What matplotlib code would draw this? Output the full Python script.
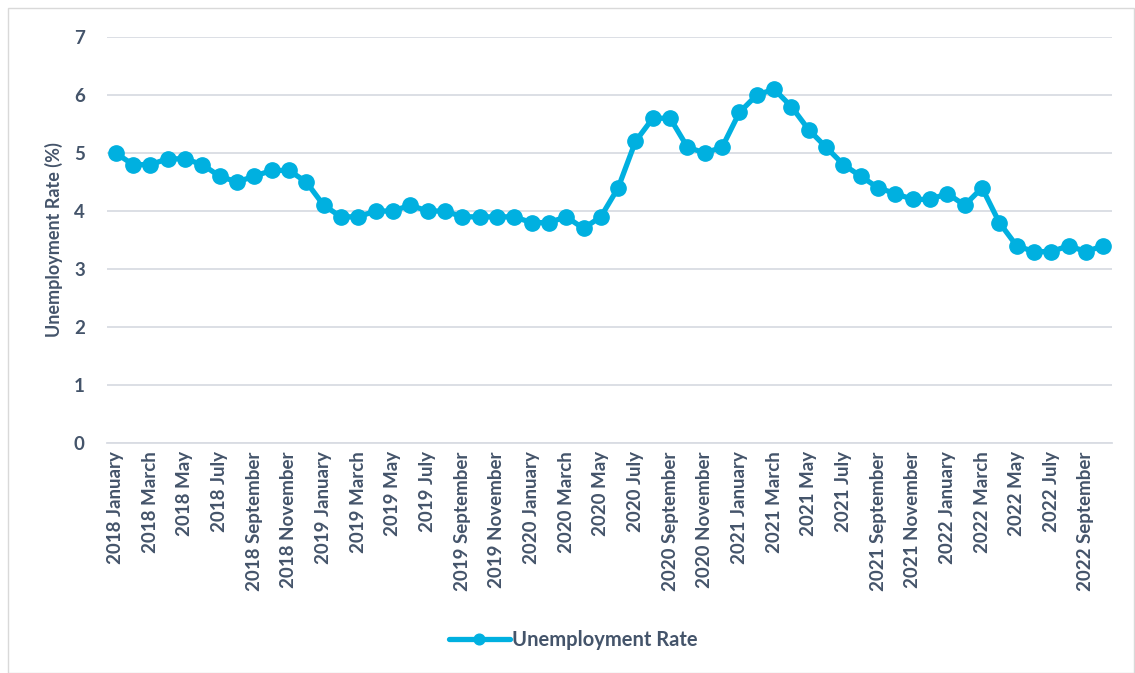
import matplotlib
matplotlib.use("Agg")
import matplotlib.pyplot as plt
from matplotlib.patches import Rectangle

plt.rcParams['font.family'] = ['Lato', 'DejaVu Sans']

months = ["January", "February", "March", "April", "May", "June", "July",
          "August", "September", "October", "November", "December"]
periods = [f"{y} {m}" for y in range(2018, 2023) for m in months][:58]

rate = [
    5.0, 4.8, 4.8, 4.9, 4.9, 4.8, 4.6, 4.5, 4.6, 4.7, 4.7, 4.5,   # 2018
    4.1, 3.9, 3.9, 4.0, 4.0, 4.1, 4.0, 4.0, 3.9, 3.9, 3.9, 3.9,   # 2019
    3.8, 3.8, 3.9, 3.7, 3.9, 4.4, 5.2, 5.6, 5.6, 5.1, 5.0, 5.1,   # 2020
    5.7, 6.0, 6.1, 5.8, 5.4, 5.1, 4.8, 4.6, 4.4, 4.3, 4.2, 4.2,   # 2021
    4.3, 4.1, 4.4, 3.8, 3.4, 3.3, 3.3, 3.4, 3.3, 3.4,             # 2022
]
y_ticks = [0, 1, 2, 3, 4, 5, 6, 7]

text_color = "#44546A"
line_color = "#00B0E0"
grid_color = "#D9DCE3"

fig = plt.figure(figsize=(11.35, 6.73), dpi=100)
fig.patches.append(Rectangle((8 / 1135, 0.0), 1 - 8 / 1135 - 0.001, 1 - 8 / 673,
                             transform=fig.transFigure, fill=False,
                             edgecolor="#D9D9D9", linewidth=1.0))

ax = fig.add_axes([0.0943, 0.3418, 0.8854, 0.6032])
x = list(range(len(rate)))
ax.plot(x, rate, color=line_color, linewidth=3.8, marker="o", markersize=11,
        label="Unemployment Rate", solid_capstyle="round")

ax.set_xlim(-0.5, len(rate) - 0.5)
ax.set_ylim(0, 7)
ax.set_yticks(y_ticks)
ax.set_xticks(x[::2])
ax.set_xticklabels(periods[::2], rotation=90, fontsize=13.5, fontweight="bold",
                   color=text_color)
ax.tick_params(axis="y", labelsize=13.5, labelcolor=text_color, length=0, pad=16)
for lbl in ax.get_yticklabels():
    lbl.set_fontweight("bold")
ax.tick_params(axis="x", length=0, pad=6)

ax.grid(axis="y", color=grid_color, linewidth=1.3)
ax.set_axisbelow(True)
for side in ("top", "right", "left"):
    ax.spines[side].set_visible(False)
ax.spines["bottom"].set_color(grid_color)
ax.spines["bottom"].set_linewidth(1.3)

ax.set_ylabel("Unemployment Rate (%)", fontsize=13, fontweight="bold",
              color=text_color, labelpad=8)

leg = fig.legend(loc="center", bbox_to_anchor=(0.505, 1 - 640 / 673), frameon=False,
                 prop={"size": 14.5, "weight": "bold"}, handlelength=3.0,
                 handletextpad=0.1, markerscale=0.7)
for t in leg.get_texts():
    t.set_color(text_color)

fig.savefig("out.png", dpi=100, facecolor="white")
